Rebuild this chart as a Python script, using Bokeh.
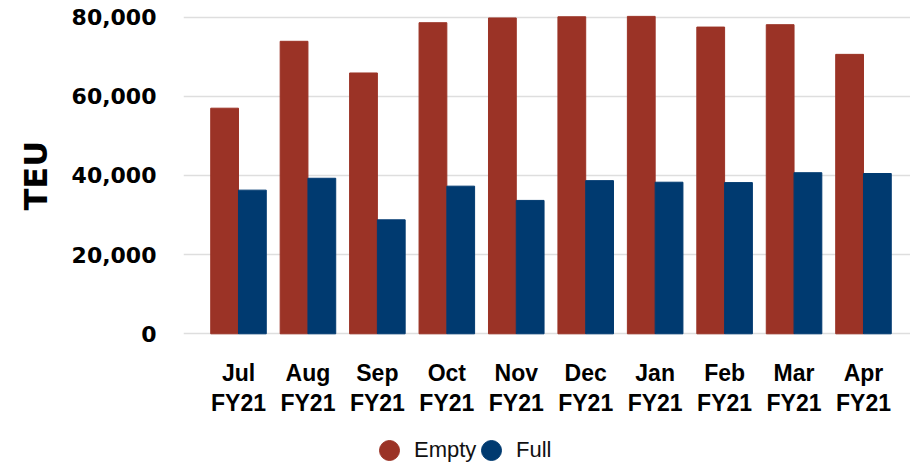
from bokeh.plotting import figure
from bokeh.models import (Range1d, FixedTicker, NumeralTickFormatter, Legend,
                          LegendItem, ColumnDataSource, Title)
from bokeh.transform import dodge
from bokeh.embed import file_html
from bokeh.resources import INLINE

months = ["Jul", "Aug", "Sep", "Oct", "Nov", "Dec", "Jan", "Feb", "Mar", "Apr"]
fiscal_year = ["FY21"] * 10
empty_teu = [57000, 73900, 65900, 78600, 79800, 80100, 80200, 77500, 78100, 70600]
full_teu = [36300, 39300, 28800, 37300, 33700, 38700, 38300, 38200, 40700, 40500]
y_ticks = [0, 20000, 40000, 60000, 80000]
series_names = ["Empty", "Full"]
y_title = "TEU"

RED = "#9B3326"
BLUE = "#003A70"

idx = list(range(len(months)))
src = ColumnDataSource(dict(x=idx, empty=empty_teu, full=full_teu))

p = figure(width=910, height=465, output_backend="svg", toolbar_location=None,
           x_range=Range1d(-0.792, 9.677), y_range=Range1d(-33275, 81685),
           min_border_left=183, min_border_right=0, min_border_top=10,
           min_border_bottom=0)
p.outline_line_color = None
p.background_fill_color = "white"

p.vbar(x=dodge('x', -0.2), top='empty', width=0.4, source=src,
       fill_color=RED, line_color=RED)
p.vbar(x=dodge('x', 0.2), top='full', width=0.4, source=src,
       fill_color=BLUE, line_color=BLUE)

# legend-only renderers (nothing visible in the plot: y is NaN)
nan_src = ColumnDataSource(dict(x=[idx[0]], y=[float("nan")]))
le = p.scatter(x='x', y='y', source=nan_src, size=20, marker="circle",
               fill_color=RED, line_color=RED)
lf = p.scatter(x='x', y='y', source=nan_src, size=20, marker="circle",
               fill_color=BLUE, line_color=BLUE)

common = dict(orientation="horizontal", glyph_width=50, glyph_height=50,
              label_standoff=0, spacing=0, padding=0, margin=0,
              border_line_color=None, background_fill_alpha=0,
              label_text_font="Liberation Sans", label_text_font_size="22px",
              label_text_color="#111111")
leg1 = Legend(items=[LegendItem(label=series_names[0], renderers=[le])],
              location=(181, -10), **common)
leg2 = Legend(items=[LegendItem(label=series_names[1], renderers=[lf])],
              location=(283, -10), **common)
p.add_layout(leg1, "center")
p.add_layout(leg2, "center")

# y axis title, placed beside the 0..80,000 span
ytitle = Title(text=y_title, align="left", offset=255, standoff=28,
               text_font="DejaVu Sans", text_font_style="bold",
               text_font_size="32px", text_color="#000000")
p.add_layout(ytitle, "left")

# y axis
p.yaxis.ticker = FixedTicker(ticks=y_ticks)
p.yaxis.formatter = NumeralTickFormatter(format="0,0")
p.yaxis.major_label_text_font = "DejaVu Sans"
p.yaxis.major_label_text_font_style = "bold"
p.yaxis.major_label_text_font_size = "22px"
p.yaxis.major_label_text_color = "#000000"
p.yaxis.major_label_standoff = 21
p.yaxis.axis_line_color = None
p.yaxis.major_tick_line_color = None
p.yaxis.minor_tick_line_color = None

# x axis, drawn at y = 0 inside the frame
p.xaxis.fixed_location = 0
p.xaxis.ticker = FixedTicker(ticks=idx)
p.xaxis.major_label_overrides = {i: f"{m}\n{f}" for i, m, f in zip(idx, months, fiscal_year)}
p.xaxis.major_label_text_font = "Liberation Sans"
p.xaxis.major_label_text_font_style = "bold"
p.xaxis.major_label_text_font_size = "23px"
p.xaxis.major_label_text_line_height = 1.16
p.xaxis.major_label_text_color = "#000000"
p.xaxis.major_label_standoff = 20
p.xaxis.axis_line_color = None
p.xaxis.major_tick_line_color = None
p.xaxis.minor_tick_line_color = None

p.xgrid.grid_line_color = None
p.ygrid.grid_line_color = "#DEDEDE"
p.ygrid.grid_line_width = 1.5

open("out.html", "w").write(file_html(p, INLINE))
